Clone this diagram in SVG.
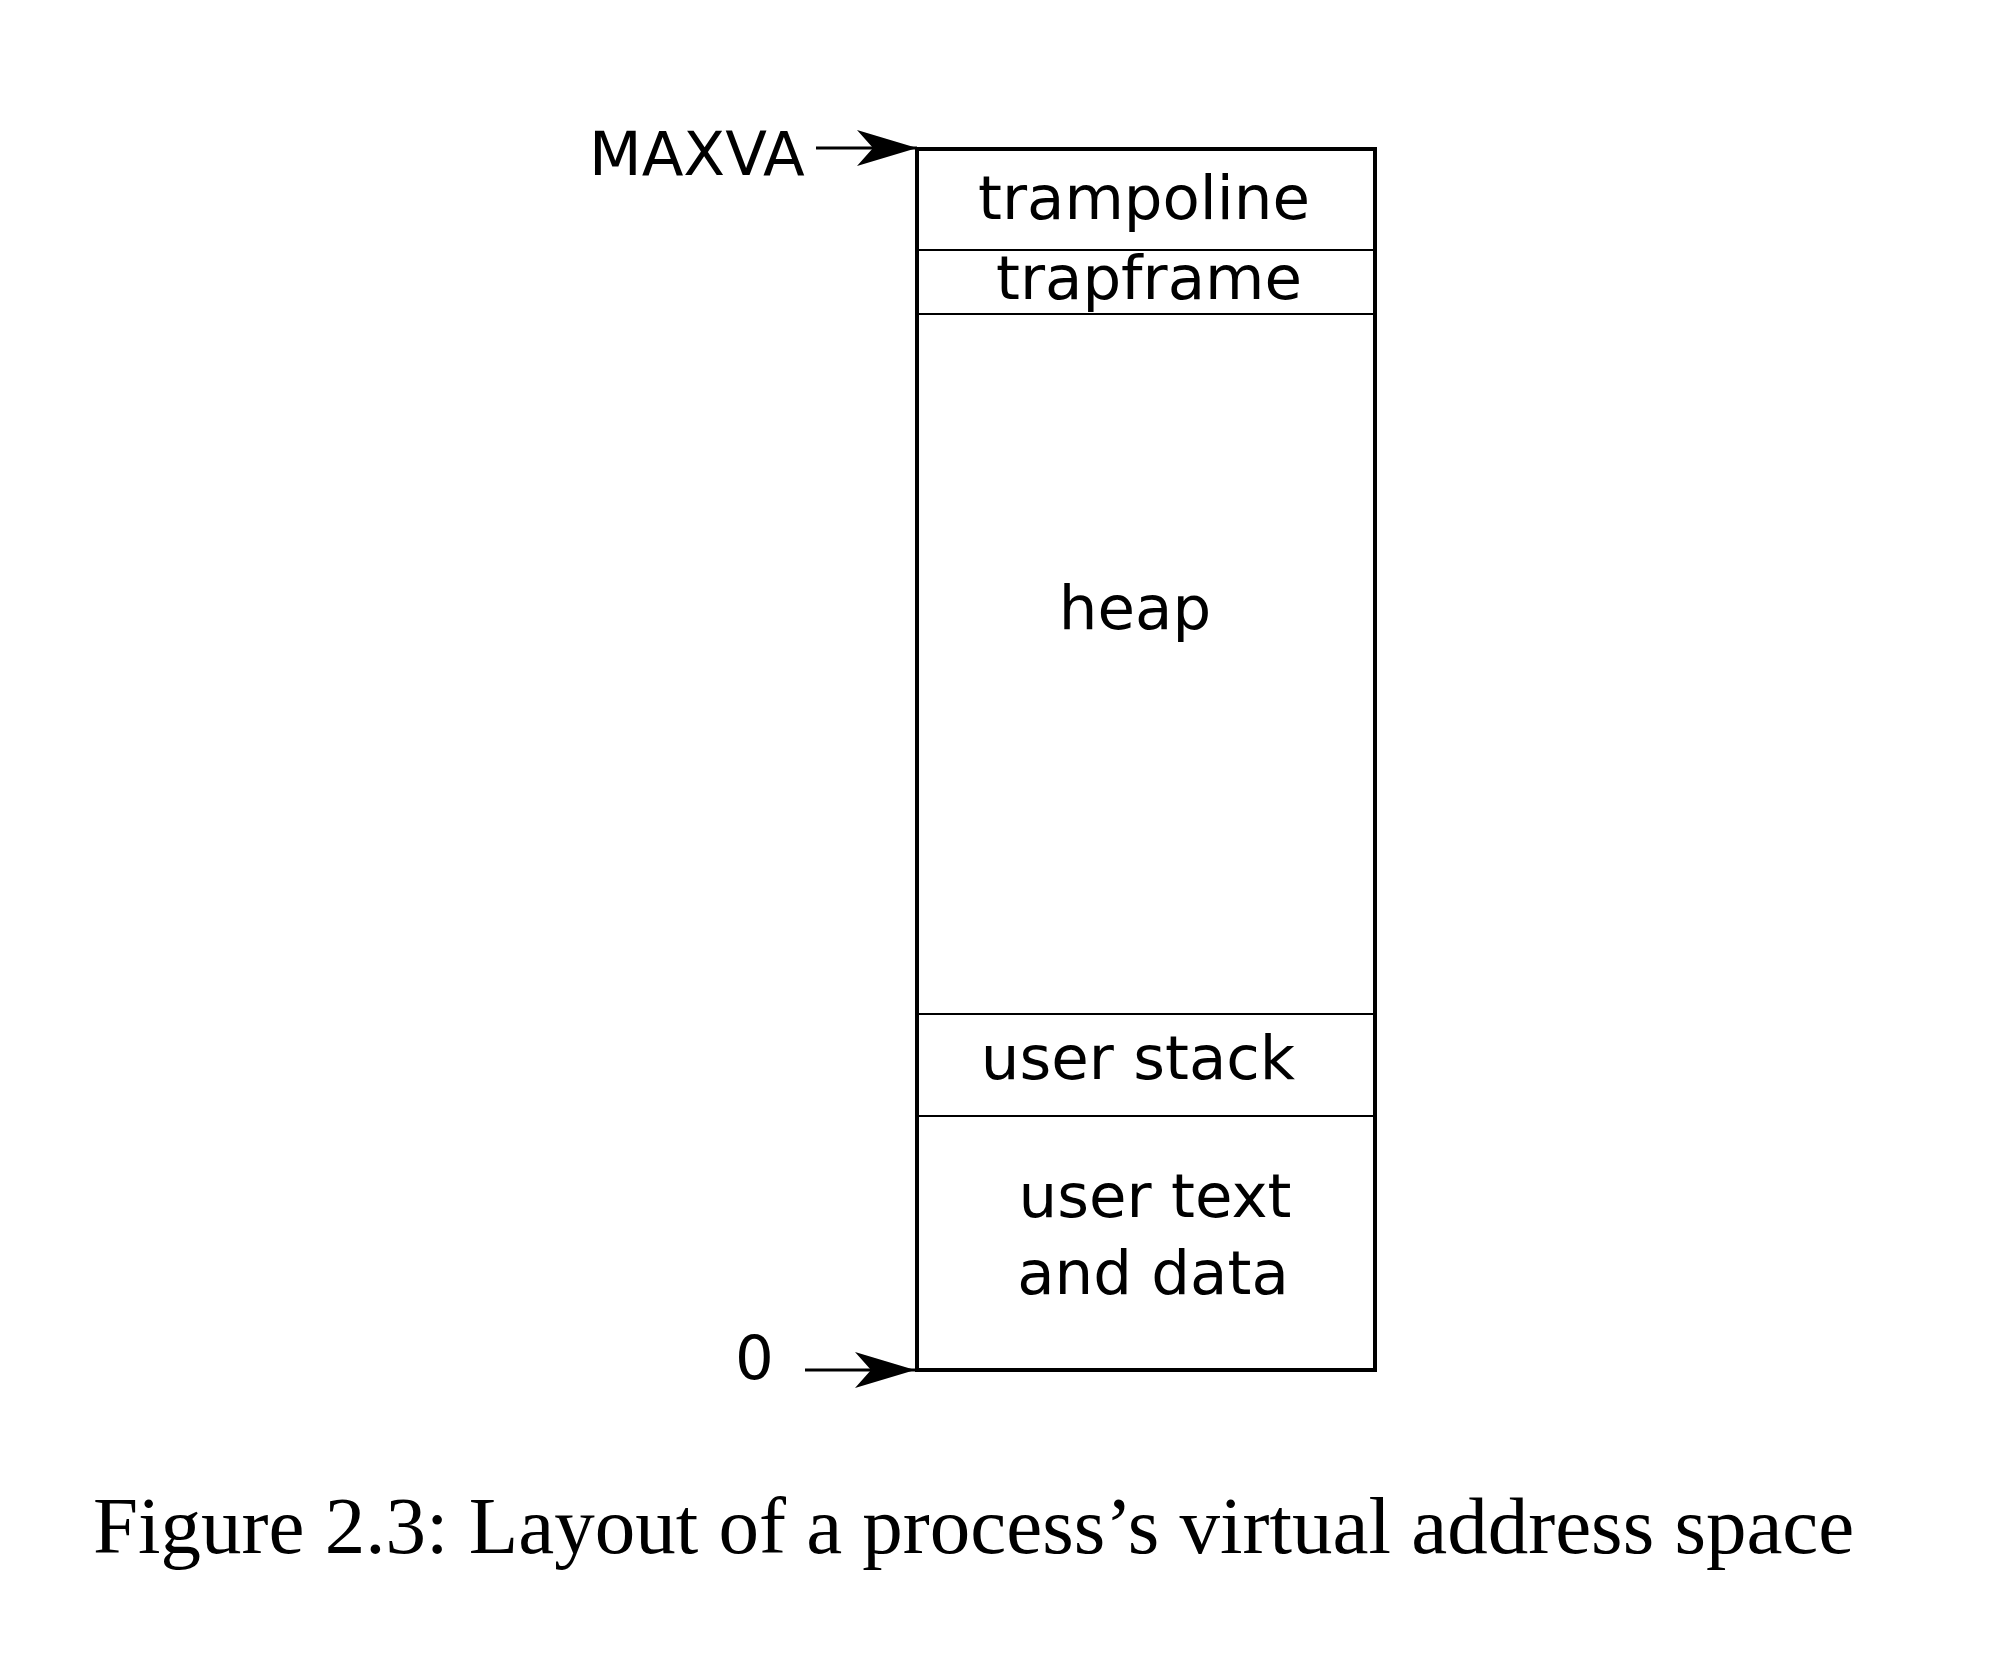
<svg xmlns="http://www.w3.org/2000/svg" width="2000" height="1662" viewBox="0 0 2000 1662">
<style>
.lbl{font-family:"DejaVu Sans",sans-serif;font-size:61px;fill:#000}
.cap{font-family:"Liberation Serif",serif;font-size:81px;fill:#000}
.div{stroke:#000;stroke-width:2;fill:none}
.edge{stroke:#000;stroke-width:3;fill:none}
</style>
<defs>
<marker id="ah" markerUnits="userSpaceOnUse" viewBox="0 0 60 36" refX="60" refY="18" markerWidth="60" markerHeight="36" orient="auto">
<path d="M0,0 L60,18 L0,36 L16,18 Z" fill="#000"/>
</marker>
</defs>
<rect width="2000" height="1662" fill="#fff"/>
<g id="memory">
<rect x="917" y="149" width="458" height="1221" fill="none" stroke="#000" stroke-width="4"/>
</g>
<g id="trampoline">
<line class="div" x1="917" y1="250" x2="1375" y2="250"/>
<text class="lbl" x="1144" y="219" text-anchor="middle">trampoline</text>
</g>
<g id="trapframe">
<line class="div" x1="917" y1="314" x2="1375" y2="314"/>
<text class="lbl" x="1149" y="299" text-anchor="middle">trapframe</text>
</g>
<g id="heap">
<line class="div" x1="917" y1="1014" x2="1375" y2="1014"/>
<text class="lbl" x="1135" y="629" text-anchor="middle">heap</text>
</g>
<g id="user-stack">
<line class="div" x1="917" y1="1116" x2="1375" y2="1116"/>
<text class="lbl" x="1138" y="1079" text-anchor="middle">user stack</text>
</g>
<g id="user-text">
<text class="lbl" x="1155" y="1217" text-anchor="middle">user text</text>
<text class="lbl" x="1153" y="1294" text-anchor="middle">and data</text>
</g>
<g id="maxva">
<text class="lbl" x="589" y="175">MAXVA</text>
</g>
<g id="zero">
<text class="lbl" x="735" y="1379">0</text>
</g>
<g id="connectors">
<line class="edge" x1="816" y1="148" x2="917" y2="148" marker-end="url(#ah)"/>
<line class="edge" x1="805" y1="1370" x2="915" y2="1370" marker-end="url(#ah)"/>
</g>
<g id="caption">
<text class="cap" x="93" y="1553">Figure 2.3: Layout of a process’s virtual address space</text>
</g>
</svg>
